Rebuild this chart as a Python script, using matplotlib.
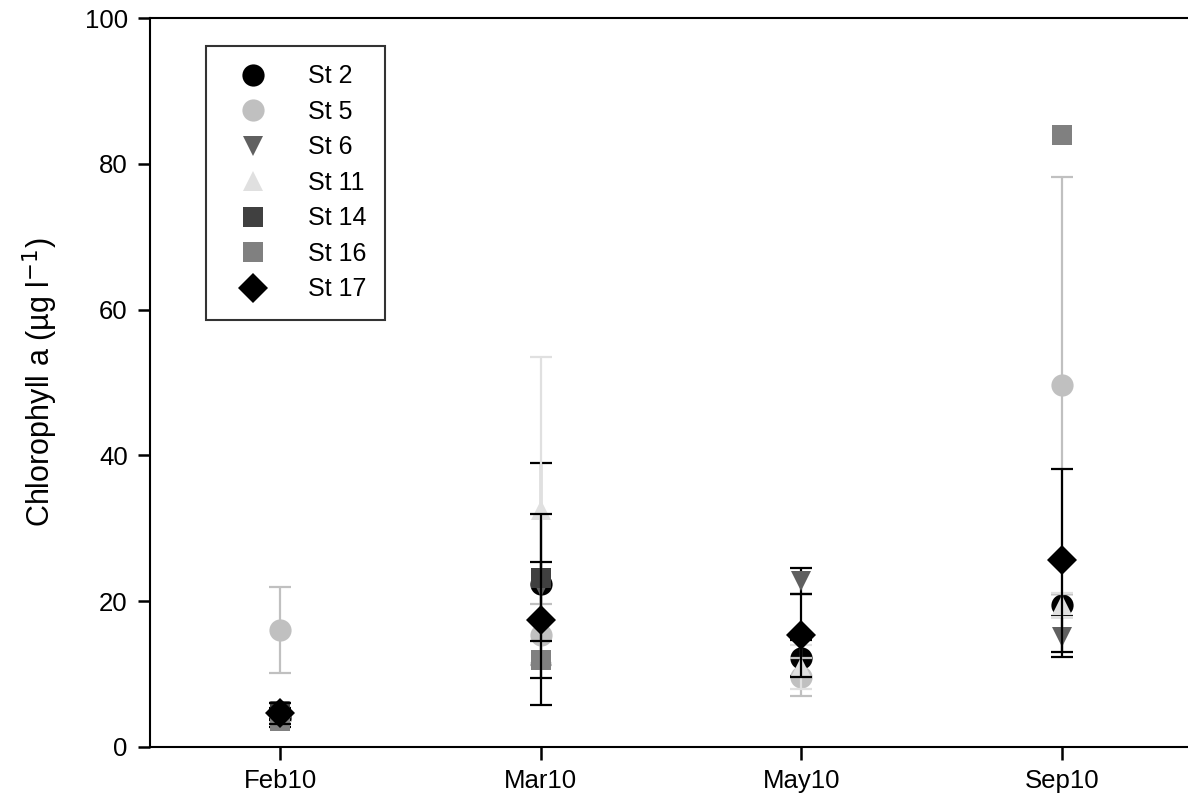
import matplotlib.pyplot as plt
import numpy as np

plt.rcParams['font.family'] = ['Liberation Sans', 'DejaVu Sans']

months = ['Feb10', 'Mar10', 'May10', 'Sep10']
stations = ['St 2', 'St 5', 'St 6', 'St 11', 'St 14', 'St 16', 'St 17']

# mean chlorophyll per station and month (nan = not sampled / not visible)
st2 = [4.0, 22.3, 12.2, 19.5]
st5 = [16.0, 15.4, 9.6, 49.6]
st6 = [5.0, 22.0, 22.8, 15.1]
st11 = [4.2, 32.5, 11.0, 19.5]
st14 = [4.5, 23.2, np.nan, np.nan]
st16 = [3.6, 11.9, np.nan, 84.0]
st17 = [4.6, 17.4, 15.3, 25.6]

# standard errors (0 where no bar is drawn)
st2_err = [1.2, 16.6, 2.5, 1.5]
st5_err = [5.9, 4.2, 2.6, 28.6]
st6_err = [1.0, 0.0, 1.8, 2.8]
st11_err = [0.8, 21.0, 3.0, 1.6]
st14_err = [0.8, 8.7, 0.0, 0.0]
st16_err = [0.5, 0.0, 0.0, 0.0]
st17_err = [1.4, 8.0, 5.7, 12.5]

means = [st2, st5, st6, st11, st14, st16, st17]
errs = [st2_err, st5_err, st6_err, st11_err, st14_err, st16_err, st17_err]
markers = ['o', 'o', 'v', '^', 's', 's', 'D']
colors = ['#000000', '#c0c0c0', '#606060', '#e0e0e0', '#404040', '#808080', '#000000']
ecolors = ['#000000', '#c0c0c0', '#000000', '#e0e0e0', '#000000', '#808080', '#000000']
sizes = [16, 16, 15, 15, 14, 14, 15]

fig = plt.figure(figsize=(11.88, 8.08), dpi=100)
ax = fig.add_axes([150 / 1188, 1 - 747 / 808, 1042 / 1188, 729 / 808])

x = np.arange(len(months))
for m, e, mk, c, ec, s, lab in zip(means, errs, markers, colors, ecolors, sizes, stations):
    e = np.array(e)
    ax.errorbar(x, m, yerr=np.where(e > 0, e, np.nan), fmt='none', ecolor=ec,
                elinewidth=1.6, capsize=8, capthick=1.6)
    ax.plot(x, m, linestyle='none', marker=mk, color=c, markersize=s,
            markeredgewidth=0, label=lab)

ax.set_xlim(-0.5, 3.5)
ax.set_ylim(0, 100)
ax.set_xticks(x)
ax.set_xticklabels(months)
ax.set_yticks(np.arange(0, 101, 20))
ax.tick_params(axis='both', direction='out', length=9, width=1.8, labelsize=18.5, pad=7)
for sp in ax.spines.values():
    sp.set_linewidth(1.5)
ax.set_ylabel('Chlorophyll a (\u00b5g l$^{-1}$)', fontsize=22, labelpad=18)

leg = ax.legend(loc='upper left', bbox_to_anchor=(0.054, 0.962), fontsize=18,
                frameon=True, fancybox=False, edgecolor='black', borderpad=0.75,
                labelspacing=0.46, handletextpad=1.1, borderaxespad=0, handlelength=2.2)
leg.get_frame().set_linewidth(1.5)

fig.savefig('out.png', dpi=100)
